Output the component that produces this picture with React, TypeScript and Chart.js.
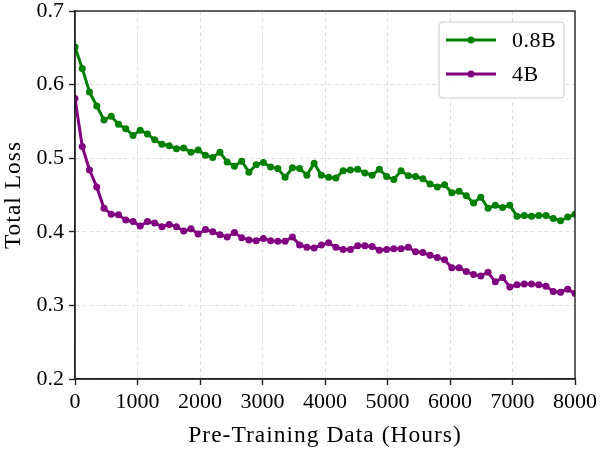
import { useEffect, useRef } from "react";
import { Chart, registerables } from "chart.js";

Chart.register(...registerables);

const hours = [
  0, 116, 232, 348, 464, 580, 696, 812, 928, 1043, 1159, 1275, 1391, 1507,
  1623, 1739, 1855, 1971, 2087, 2203, 2319, 2435, 2551, 2667, 2783, 2899,
  3014, 3130, 3246, 3362, 3478, 3594, 3710, 3826, 3942, 4058, 4174, 4290,
  4406, 4522, 4638, 4754, 4870, 4986, 5101, 5217, 5333, 5449, 5565, 5681,
  5797, 5913, 6029, 6145, 6261, 6377, 6493, 6609, 6725, 6841, 6957, 7072,
  7188, 7304, 7420, 7536, 7652, 7768, 7884, 8000,
];

const loss08B = [
  0.651, 0.622, 0.59, 0.571, 0.552, 0.557, 0.546, 0.54, 0.531, 0.538, 0.533,
  0.525, 0.519, 0.517, 0.513, 0.514, 0.508, 0.511, 0.504, 0.501, 0.508, 0.495,
  0.489, 0.496, 0.481, 0.491, 0.494, 0.488, 0.486, 0.474, 0.487, 0.486, 0.477,
  0.493, 0.477, 0.474, 0.473, 0.483, 0.484, 0.485, 0.48, 0.477, 0.485, 0.475,
  0.471, 0.483, 0.476, 0.475, 0.472, 0.465, 0.461, 0.464, 0.453, 0.455, 0.449,
  0.439, 0.447, 0.432, 0.436, 0.433, 0.436, 0.421, 0.422, 0.421, 0.422, 0.422,
  0.418, 0.415, 0.42, 0.424,
];

const loss4B = [
  0.581, 0.516, 0.484, 0.461, 0.432, 0.424, 0.423, 0.416, 0.414, 0.408, 0.414,
  0.412, 0.407, 0.41, 0.407, 0.401, 0.404, 0.397, 0.403, 0.4, 0.396, 0.393,
  0.399, 0.392, 0.389, 0.388, 0.391, 0.388, 0.387, 0.387, 0.393, 0.382, 0.379,
  0.378, 0.382, 0.385, 0.379, 0.376, 0.376, 0.381, 0.381, 0.38, 0.375, 0.376,
  0.377, 0.377, 0.379, 0.373, 0.372, 0.368, 0.365, 0.362, 0.351, 0.351, 0.346,
  0.342, 0.34, 0.345, 0.332, 0.338, 0.325, 0.328, 0.329, 0.329, 0.328, 0.326,
  0.319, 0.318, 0.322, 0.316,
];

const seriesNames = ["0.8B", "4B"];
const seriesColors = ["#008000", "#800080"];
const xTitle = "Pre-Training Data (Hours)";
const yTitle = "Total Loss";

const FONT = "'Liberation Serif', 'DejaVu Serif', serif";
const INK = "#222222";

// full box round the plot, like the matplotlib spines
const framePlugin = {
  id: "frame",
  afterDraw(chart: Chart) {
    const { ctx, chartArea: a } = chart;
    ctx.save();
    ctx.strokeStyle = INK;
    ctx.lineWidth = 1.4;
    ctx.strokeRect(a.left, a.top, a.right - a.left, a.bottom - a.top);
    ctx.restore();
  },
};

// axis titles drawn by hand so they can get a little letter spacing
const titlesPlugin = {
  id: "axisTitles",
  afterDraw(chart: Chart) {
    const { ctx, chartArea: a } = chart;
    ctx.save();
    ctx.fillStyle = "#000";
    ctx.font = `23.5px ${FONT}`;
    (ctx as any).letterSpacing = "1px";
    ctx.textAlign = "center";
    ctx.textBaseline = "alphabetic";
    ctx.fillText(xTitle, (a.left + a.right) / 2, 442);
    ctx.translate(20, (a.top + a.bottom) / 2);
    ctx.rotate(-Math.PI / 2);
    ctx.fillText(yTitle, 0, 0);
    ctx.restore();
  },
};

// legend box in the upper right corner
const legendPlugin = {
  id: "boxLegend",
  afterDraw(chart: Chart) {
    const { ctx } = chart;
    const x = 439;
    const y = 22;
    const w = 125;
    const h = 76;
    ctx.save();
    ctx.beginPath();
    ctx.roundRect(x, y, w, h, 4);
    ctx.fillStyle = "rgba(255,255,255,0.85)";
    ctx.fill();
    ctx.strokeStyle = "#cccccc";
    ctx.lineWidth = 1;
    ctx.stroke();
    seriesNames.forEach((name, i) => {
      const ly = y + 18 + i * 34;
      ctx.strokeStyle = seriesColors[i];
      ctx.lineWidth = 3;
      ctx.beginPath();
      ctx.moveTo(x + 7, ly);
      ctx.lineTo(x + 57, ly);
      ctx.stroke();
      ctx.fillStyle = seriesColors[i];
      ctx.beginPath();
      ctx.arc(x + 32, ly, 3.5, 0, Math.PI * 2);
      ctx.fill();
      ctx.fillStyle = "#000";
      ctx.font = `22px ${FONT}`;
      (ctx as any).letterSpacing = "0.5px";
      ctx.textBaseline = "middle";
      ctx.fillText(name, x + 73, ly + 1);
    });
    ctx.restore();
  },
};

const App = () => {
  const chartRef = useRef<HTMLCanvasElement>(null);
  const chartInstance = useRef<Chart | null>(null);

  useEffect(() => {
    if (!chartRef.current) return;
    if (chartInstance.current) {
      chartInstance.current.destroy();
    }
    const ctx = chartRef.current.getContext("2d");
    if (!ctx) return;

    const gridOpts = {
      color: "rgba(0,0,0,0.16)",
      lineWidth: 0.8,
      tickColor: INK,
      tickWidth: 1.4,
      tickLength: 6,
    };
    const tickFont = { size: 22, family: FONT, lineHeight: 1 };

    chartInstance.current = new Chart(ctx, {
      type: "line",
      data: {
        datasets: [loss08B, loss4B].map((vals, i) => ({
          label: seriesNames[i],
          data: hours.map((h, j) => ({ x: h, y: vals[j] })),
          borderColor: seriesColors[i],
          backgroundColor: seriesColors[i],
          pointBackgroundColor: seriesColors[i],
          pointBorderWidth: 0,
          pointRadius: 3.5,
          borderWidth: 3,
          tension: 0,
          fill: false,
        })),
      },
      options: {
        responsive: false,
        animation: false,
        layout: { padding: { left: 0, right: 25, top: 11, bottom: 0 } },
        plugins: {
          legend: { display: false },
          tooltip: { enabled: false },
        },
        scales: {
          x: {
            type: "linear",
            min: 0,
            max: 8000,
            grid: gridOpts,
            border: { display: true, color: INK, width: 1.4, dash: [4, 3] },
            ticks: {
              stepSize: 1000,
              color: "#000",
              padding: 6,
              font: tickFont,
              callback: (v: any) => String(v),
            },
            afterFit: (scale: any) => {
              scale.height = 71;
              scale.paddingLeft = 0;
              scale.paddingRight = 0;
            },
          },
          y: {
            min: 0.2,
            max: 0.7,
            grid: gridOpts,
            border: { display: true, color: INK, width: 1.4, dash: [4, 3] },
            ticks: {
              stepSize: 0.1,
              color: "#000",
              padding: 5,
              font: tickFont,
              callback: (v: any) => Number(v).toFixed(1),
            },
            afterFit: (scale: any) => {
              scale.width = 75;
              scale.paddingTop = 0;
              scale.paddingBottom = 0;
            },
          },
        },
      },
      plugins: [framePlugin, titlesPlugin, legendPlugin],
    });

    return () => {
      if (chartInstance.current) {
        chartInstance.current.destroy();
        chartInstance.current = null;
      }
    };
  }, []);

  return (
    <div
      style={{
        position: "fixed",
        left: 0,
        top: 0,
        width: 600,
        height: 450,
        background: "#fff",
      }}
    >
      <canvas ref={chartRef} width={600} height={450} />
    </div>
  );
};

export default App;
